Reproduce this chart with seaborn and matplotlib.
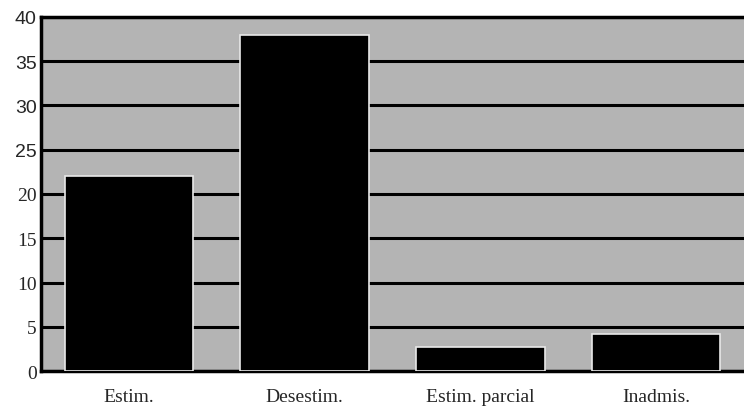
import numpy as np
import pandas as pd
import matplotlib.pyplot as plt
import seaborn as sns

# ── Data ──────────────────────────────────────────────────────────────────────
categories = ["Estim.", "Desestim.", "Estim. parcial", "Inadmis."]
values = [22, 38, 2.7, 4.2]
y_ticks = [0, 5, 10, 15, 20, 25, 30, 35, 40]

df = pd.DataFrame({"cat": categories, "val": values})

# ── Plot ──────────────────────────────────────────────────────────────────────
sns.set_style("white")
plt.rcParams["font.family"] = ["Liberation Serif", "DejaVu Serif"]

fig = plt.figure(figsize=(7.44, 4.14), dpi=100)
ax = fig.add_axes([0.055, 0.101, 0.945, 0.856])
ax.set_facecolor("#b4b4b4")

sns.barplot(data=df, x="cat", y="val", color="black", width=0.73,
            saturation=1, edgecolor="#e8e8e8", linewidth=1.2, ax=ax, zorder=3)

ax.set_ylim(0, 40)
ax.set_xlim(-0.5, 3.5)
ax.set_yticks(y_ticks)
ax.yaxis.grid(True, color="black", linewidth=2.2, zorder=1)
ax.set_axisbelow(True)
ax.set_xlabel("")
ax.set_ylabel("")

for side in ["left", "bottom", "top"]:
    ax.spines[side].set_color("black")
    ax.spines[side].set_linewidth(2.5)
ax.spines["right"].set_visible(False)

ax.tick_params(axis="y", length=0, pad=3, labelsize=14)
ax.tick_params(axis="x", length=0, pad=12, labelsize=14)
ax.set_xticks([0.5, 1.5, 2.5], minor=True)
ax.tick_params(axis="x", which="minor", direction="in", length=6, width=2,
               color="black")

# upper tick labels in the scan are sans, lower ones serif
for lab in ax.get_yticklabels():
    if lab.get_text() in ("25", "30", "35", "40"):
        lab.set_family(["Liberation Sans", "DejaVu Sans"])

plt.savefig("out.png", dpi=100)
